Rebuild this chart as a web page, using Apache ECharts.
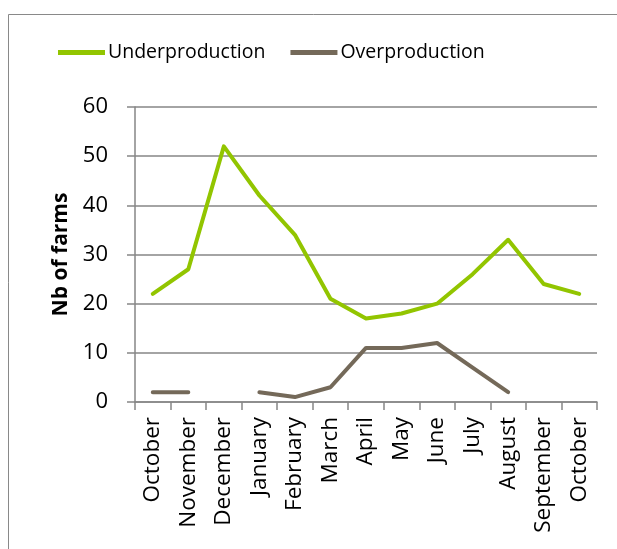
<!DOCTYPE html>
<html><head><meta charset="utf-8">
<script src="https://cdn.jsdelivr.net/npm/echarts@6/dist/echarts.min.js"></script>
<style>html,body{margin:0;padding:0;background:#fff}#c{width:617px;height:549px}</style>
</head><body><div id="c"></div>
<script>
var months = ['October','November','December','January','February','March','April','May','June','July','August','September','October'];
var underproduction = [22, 27, 52, 42, 34, 21, 17, 18, 20, 26, 33, 24, 22];
var overproduction = [2, 2, null, 2, 1, 3, 11, 11, 12, 7, 2, null, null];
var yTicks = [0, 10, 20, 30, 40, 50, 60];

var FONT = 'Open Sans';
var chart = echarts.init(document.getElementById('c'));
chart.setOption({
  animation: false,
  backgroundColor: '#fff',
  graphic: [{type:'rect', shape:{x:8.5, y:14.5, width:700, height:700}, style:{fill:'none', stroke:'#898989', lineWidth:1}, silent:true}],
  legend: {
    top: 42, left: 58, padding: 0,
    icon: 'rect', itemWidth: 47, itemHeight: 5, itemGap: 25,
    textStyle: {fontFamily: FONT, fontSize: 19.5, lineHeight: 21, color: '#000', padding:[0,0,0,-2]},
    data: ['Underproduction', 'Overproduction']
  },
  grid: {left: 135, right: 20, top: 107, bottom: 147, containLabel: false},
  xAxis: {
    type: 'category', data: months, boundaryGap: true,
    axisLine: {lineStyle: {color: '#868686', width: 1.5}},
    axisTick: {show: true, length: 8, alignWithLabel: false, lineStyle: {color: '#868686', width: 1.5}},
    axisLabel: {rotate: 90, interval: 0, fontFamily: FONT, fontSize: 22.5, color: '#000', margin: 15}
  },
  yAxis: {
    type: 'value', min: yTicks[0], max: yTicks[yTicks.length-1], interval: 10,
    name: 'Nb of farms', nameLocation: 'middle', nameGap: 61, nameRotate: 90,
    nameTextStyle: {fontFamily: FONT, fontSize: 21, fontWeight: 'bold', color: '#000'},
    axisLine: {show: true, lineStyle: {color: '#868686', width: 1.5}},
    axisTick: {show: true, length: 8, lineStyle: {color: '#868686', width: 1.5}},
    splitLine: {lineStyle: {color: '#868686', width: 1.5}},
    axisLabel: {fontFamily: FONT, fontSize: 22, color: '#000', margin: 27}
  },
  series: [
    {name: 'Underproduction', type: 'line', data: underproduction, symbol: 'none',
     itemStyle: {color: '#92C500'}, lineStyle: {color: '#92C500', width: 4, cap: 'round', join: 'round'}},
    {name: 'Overproduction', type: 'line', data: overproduction, symbol: 'none', connectNulls: false,
     itemStyle: {color: '#746959'}, lineStyle: {color: '#746959', width: 4, cap: 'round', join: 'round'}}
  ]
});
</script></body></html>
